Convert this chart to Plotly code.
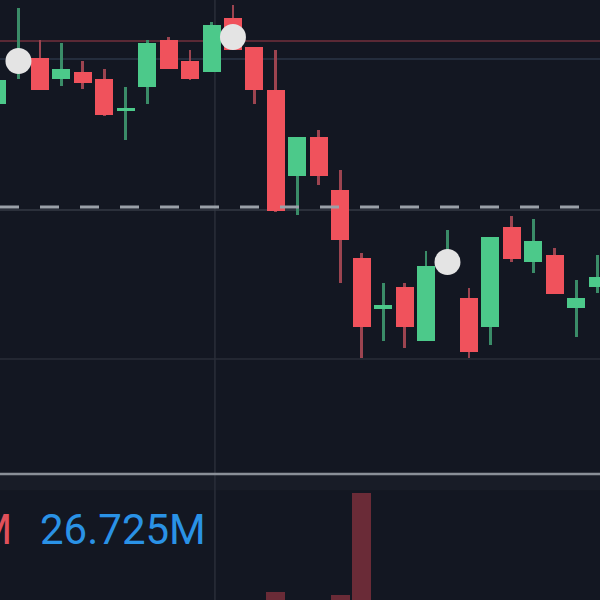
import plotly.graph_objects as go

# Candle data (price units), index = bar number
idx = list(range(29))
opens  = [24.96, 25.38, 25.42, 25.21, 25.28, 25.21, 24.89, 25.13, 25.60, 25.39, 25.28, 25.82, 25.53, 25.10, 24.24,
          24.63, 24.10, 23.42, 22.91, 23.13, 22.59, 23.36, 23.02, 22.73, 23.73, 23.38, 23.45, 22.92, 23.13]
highs  = [25.24, 25.92, 25.60, 25.57, 25.39, 25.31, 25.13, 25.60, 25.63, 25.50, 25.78, 25.95, 25.53, 25.50, 24.63,
          24.70, 24.30, 23.47, 23.17, 23.17, 23.49, 23.70, 23.12, 23.63, 23.84, 23.81, 23.52, 23.20, 23.45]
lows   = [24.93, 25.21, 25.10, 25.14, 25.11, 24.84, 24.60, 24.96, 25.31, 25.20, 25.28, 25.50, 24.96, 23.88, 23.85,
          24.15, 23.17, 22.42, 22.59, 22.52, 22.59, 23.36, 22.42, 22.55, 23.38, 23.27, 23.06, 22.63, 23.07]
closes = [25.20, 25.41, 25.10, 25.31, 25.17, 24.85, 24.92, 25.57, 25.31, 25.21, 25.75, 25.50, 25.10, 23.89, 24.63,
          24.24, 23.60, 22.73, 22.95, 22.73, 23.34, 23.40, 22.48, 23.63, 23.41, 23.59, 23.06, 23.02, 23.23]

# Volume (millions) shown in lower pane
vol_idx = [13, 16, 17]
vol_vals = [4.0, 2.5, 53.5]

# Signal markers
marker_idx = [1, 11, 21]
marker_price = [25.39, 25.63, 23.38]

# Horizontal levels
level_red = 25.59
level_blue = 25.41
level_dash = 23.93
level_solid = 23.90
grid_h = 22.41
grid_v = 10.16

vol_label = "26.725M"
vol_label_prev = "3.581M"

BG = "#131722"
UP, DOWN = "#4cc98a", "#f0525c"
UPW, DOWNW = "#3a8c68", "#9c4450"

body_base = [min(o, c) for o, c in zip(opens, closes)]
body_h = [max(abs(c - o), 0.03) for o, c in zip(opens, closes)]
body_col = [UP if c >= o else DOWN for o, c in zip(opens, closes)]
wick_col = [UPW if c >= o else DOWNW for o, c in zip(opens, closes)]
wick_h = [h - l for h, l in zip(highs, lows)]

fig = go.Figure()
fig.add_trace(go.Bar(x=idx, y=wick_h, base=lows, width=0.13, marker=dict(color=wick_col, line=dict(width=0)),
                     xaxis="x", yaxis="y", showlegend=False))
fig.add_trace(go.Bar(x=idx, y=body_h, base=body_base, width=0.84, marker=dict(color=body_col, line=dict(width=0)),
                     xaxis="x", yaxis="y", showlegend=False))
fig.add_trace(go.Scatter(x=marker_idx, y=marker_price, mode="markers",
                         marker=dict(size=26, color="#e4e4e4", line=dict(width=0)),
                         xaxis="x", yaxis="y", showlegend=False))
fig.add_trace(go.Bar(x=vol_idx, y=vol_vals, width=0.88, marker=dict(color="#6a2b37", line=dict(width=0)),
                     xaxis="x2", yaxis="y2", showlegend=False))

xr = [0.14, 28.11]
shapes = [
    dict(type="rect", xref="paper", yref="paper", x0=0, x1=1, y0=0.183, y1=0.21, fillcolor="#181c27",
         line=dict(width=0), layer="below"),
    dict(type="line", xref="x", yref="paper", x0=grid_v, x1=grid_v, y0=0, y1=1, line=dict(color="#2a2e39", width=1.5), layer="below"),
    dict(type="line", xref="paper", yref="y", x0=0, x1=1, y0=grid_h, y1=grid_h, line=dict(color="#2a2e39", width=1.5), layer="below"),
    dict(type="line", xref="paper", yref="y", x0=0, x1=1, y0=level_red, y1=level_red, line=dict(color="#73303c", width=1.5), layer="below"),
    dict(type="line", xref="paper", yref="y", x0=0, x1=1, y0=level_blue, y1=level_blue, line=dict(color="#2b3647", width=1.5), layer="below"),
    dict(type="line", xref="paper", yref="y", x0=0, x1=1, y0=level_solid, y1=level_solid, line=dict(color="#353a45", width=1.5), layer="below"),
    dict(type="line", xref="paper", yref="y", x0=0, x1=1, y0=level_dash, y1=level_dash,
         line=dict(color="#9aa0a8", width=3, dash="19px,21px"), layer="above"),
    dict(type="line", xref="paper", yref="paper", x0=0, x1=1, y0=0.21, y1=0.21, line=dict(color="#8a8f98", width=2.5), layer="above"),
]

fig.update_layout(
    width=600, height=600, margin=dict(l=0, r=0, t=0, b=0),
    paper_bgcolor=BG, plot_bgcolor=BG, barmode="overlay", bargap=0,
    xaxis=dict(range=xr, domain=[0, 1], anchor="y", visible=False, showgrid=False, zeroline=False),
    yaxis=dict(range=[21.26, 26.00], domain=[0.21, 1], visible=False, showgrid=False, zeroline=False),
    xaxis2=dict(range=xr, domain=[0, 1], anchor="y2", visible=False, matches="x"),
    yaxis2=dict(range=[0, 63], domain=[0, 0.21], visible=False, showgrid=False, zeroline=False),
    shapes=shapes,
    annotations=[
        dict(text=vol_label, xref="paper", yref="paper", x=38/600, y=(600-529)/600, xanchor="left", yanchor="middle",
             showarrow=False, font=dict(family="Roboto", size=42, color="#2a92e6")),
        dict(text=vol_label_prev, xref="paper", yref="paper", x=14/600, y=(600-529)/600, xanchor="right", yanchor="middle",
             showarrow=False, font=dict(family="Roboto", size=42, color="#e0505a")),
    ],
    showlegend=False,
    hovermode=False,
)

fig.write_html("out.html", config={"displayModeBar": False},
               post_script="document.body.style.margin='0';document.body.style.background='#131722';")
